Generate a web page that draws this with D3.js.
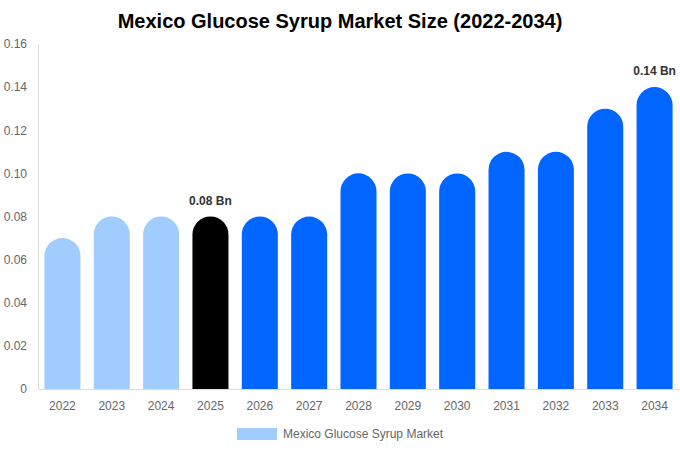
<!DOCTYPE html>
<html>
<head>
<meta charset="utf-8">
<script src="https://cdn.jsdelivr.net/npm/d3@7"></script>
<style>
  body { margin: 0; background: #fff; }
  svg { font-family: "Liberation Sans", Arial, sans-serif; }
</style>
</head>
<body>
<svg id="canvas" width="680" height="450"></svg>
<script>
// Chart data
var YEARS = ['2022', '2023', '2024', '2025', '2026', '2027', '2028', '2029', '2030', '2031', '2032', '2033', '2034'];
var VALUES = [0.07, 0.08, 0.08, 0.08, 0.08, 0.08, 0.10, 0.10, 0.10, 0.11, 0.11, 0.13, 0.14];
var Y_TICKS = [0, 0.02, 0.04, 0.06, 0.08, 0.10, 0.12, 0.14, 0.16];
var LABELLED = ['2025', '2034'];

var margin = { top: 44, right: 1, bottom: 61, left: 38 };
var width = 680, height = 450;

var svg = d3.select('#canvas');

var bars = YEARS.map(function (year, i) {
  return { year: year, value: VALUES[i] };
});

var x = d3.scaleBand()
  .domain(YEARS)
  .range([margin.left, width - margin.right])
  .paddingInner(0.27)
  .paddingOuter(0.13);

var y = d3.scaleLinear()
  .domain([0, 0.16])
  .range([height - margin.bottom, margin.top]);

function barColor(year) {
  if (+year < 2025) return '#a0cdfd';
  if (+year === 2025) return '#000000';
  return '#0066ff';
}

// Title
svg.append('text')
  .attr('x', width / 2)
  .attr('y', 28)
  .attr('text-anchor', 'middle')
  .style('font-size', '20px')
  .style('font-weight', 'bold')
  .attr('fill', '#000')
  .text('Mexico Glucose Syrup Market Size (2022-2034)');

// Y axis
var yAxis = d3.axisLeft(y)
  .tickValues(Y_TICKS)
  .tickSize(0)
  .tickPadding(11)
  .tickFormat(function (d) { return d === 0 ? '0' : d3.format('.2f')(d); });

svg.append('g')
  .attr('transform', 'translate(' + margin.left + ',0)')
  .call(yAxis)
  .call(function (g) {
    g.select('.domain').attr('stroke', '#ddd');
    g.selectAll('text').attr('fill', '#666').style('font-size', '12px');
  });

// X axis
var xAxis = d3.axisBottom(x).tickSize(0).tickPadding(12);
svg.append('g')
  .attr('transform', 'translate(0,' + (height - margin.bottom) + ')')
  .call(xAxis)
  .call(function (g) {
    g.select('.domain').attr('stroke', '#ddd');
    g.selectAll('text').attr('fill', '#666').style('font-size', '12px');
  });

// Bars with rounded tops
function barPath(d) {
  var x0 = x(d.year);
  var w = x.bandwidth();
  var r = w / 2;
  var top = y(d.value);
  var base = y(0);
  return 'M' + x0 + ',' + base +
    'L' + x0 + ',' + (top + r) +
    'A' + r + ',' + r + ' 0 0 1 ' + (x0 + w) + ',' + (top + r) +
    'L' + (x0 + w) + ',' + base + 'Z';
}

svg.append('g')
  .selectAll('path')
  .data(bars)
  .enter()
  .append('path')
  .attr('d', barPath)
  .attr('fill', function (d) { return barColor(d.year); });

// Value labels
svg.append('g')
  .selectAll('text')
  .data(bars.filter(function (d) { return LABELLED.indexOf(d.year) >= 0; }))
  .enter()
  .append('text')
  .attr('x', function (d) { return x(d.year) + x.bandwidth() / 2; })
  .attr('y', function (d) { return y(d.value) - 12; })
  .attr('text-anchor', 'middle')
  .style('font-size', '12px')
  .style('font-weight', 'bold')
  .attr('fill', '#333')
  .text(function (d) { return d.value.toFixed(2) + ' Bn'; });

// Legend
var legend = svg.append('g').attr('transform', 'translate(237,428)');
legend.append('rect')
  .attr('width', 40)
  .attr('height', 12)
  .attr('fill', '#a0cdfd');
legend.append('text')
  .attr('x', 46)
  .attr('y', 10)
  .style('font-size', '12px')
  .attr('fill', '#666')
  .text('Mexico Glucose Syrup Market');
</script>
</body>
</html>
